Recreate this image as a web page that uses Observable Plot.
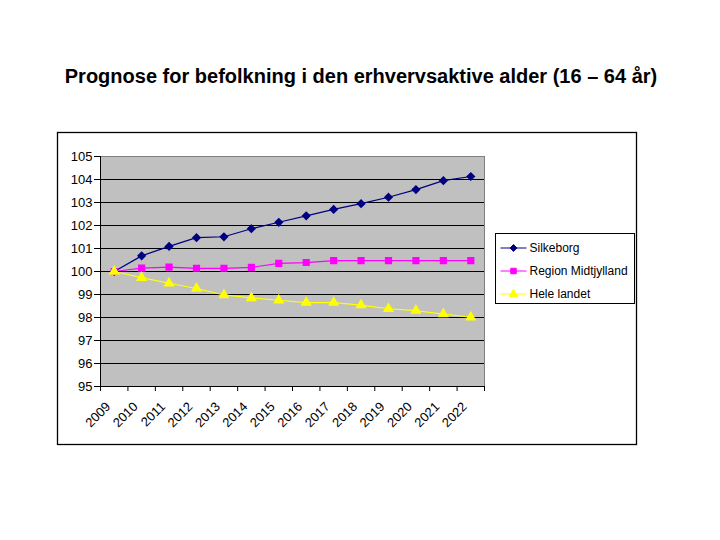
<!DOCTYPE html>
<html>
<head>
<meta charset="utf-8">
<script src="https://cdn.jsdelivr.net/npm/d3@7"></script>
<script src="https://cdn.jsdelivr.net/npm/@observablehq/plot@0.6"></script>
<style>
  html, body { margin: 0; padding: 0; background: #fff; }
  #wrap { position: relative; width: 720px; height: 540px; overflow: hidden; }
  #wrap svg { position: absolute; left: 0; top: 0; }
</style>
</head>
<body>
<div id="wrap"></div>
<script>
const title = "Prognose for befolkning i den erhvervsaktive alder (16 – 64 år)";
const years = [2009, 2010, 2011, 2012, 2013, 2014, 2015, 2016, 2017, 2018, 2019, 2020, 2021, 2022];
const silkeborg = [100, 100.68, 101.09, 101.47, 101.51, 101.86, 102.14, 102.42, 102.70, 102.95, 103.23, 103.56, 103.95, 104.13];
const regionMidtjylland = [100, 100.15, 100.19, 100.14, 100.14, 100.18, 100.35, 100.39, 100.47, 100.47, 100.47, 100.47, 100.47, 100.47];
const heleLandet = [100, 99.73, 99.49, 99.26, 98.98, 98.85, 98.75, 98.65, 98.65, 98.54, 98.38, 98.30, 98.15, 98.01];
const seriesNames = ["Silkeborg", "Region Midtjylland", "Hele landet"];
const seriesColors = ["#000080", "#ff00ff", "#ffff00"];
const seriesSymbols = ["diamond2", "square", "triangle"];
const yTicks = [95, 96, 97, 98, 99, 100, 101, 102, 103, 104, 105];

const seriesValues = [silkeborg, regionMidtjylland, heleLandet];
const data = seriesNames.flatMap((name, s) =>
  years.map((year, i) => ({ series: name, year, value: seriesValues[s][i] })));
const boundaries = years.map(y => y - 0.5).concat([years[years.length - 1] + 0.5]);
const font = "'Liberation Sans', Arial, sans-serif";

const wrap = document.getElementById("wrap");

// background svg: title, outer frame, legend
const bg = d3.select(wrap).append("svg").attr("width", 720).attr("height", 540)
  .style("font-family", font);
bg.append("text").attr("x", 361).attr("y", 83).attr("text-anchor", "middle")
  .attr("font-size", 20).attr("font-weight", "bold").text(title);
bg.append("rect").attr("x", 57.5).attr("y", 132.5).attr("width", 579).attr("height", 312)
  .attr("fill", "white").attr("stroke", "black").attr("stroke-width", 1.3);

const lg = bg.append("g").attr("transform", "translate(495.5,233.5)");
lg.append("rect").attr("width", 139).attr("height", 70).attr("fill", "white").attr("stroke", "black");
const symMap = { diamond2: d3.symbolDiamond2, square: d3.symbolSquare, triangle: d3.symbolTriangle };
seriesNames.forEach((name, i) => {
  const cy = 14.5 + i * 23;
  lg.append("line").attr("x1", 5).attr("x2", 31).attr("y1", cy).attr("y2", cy)
    .attr("stroke", seriesColors[i]).attr("stroke-width", 1);
  lg.append("path").attr("d", d3.symbol(symMap[seriesSymbols[i]], 30)())
    .attr("transform", `translate(18,${cy})`)
    .attr("fill", seriesColors[i]).attr("stroke", seriesColors[i]);
  lg.append("text").attr("x", 34).attr("y", cy + 4.3).attr("font-size", 12).text(name);
});

const chart = Plot.plot({
  width: 720,
  height: 540,
  marginLeft: 100,
  marginRight: 236,
  marginTop: 156,
  marginBottom: 154,
  style: { fontFamily: font, fontSize: "13px", color: "black", background: "transparent", overflow: "visible" },
  x: { type: "linear", domain: [boundaries[0], boundaries[boundaries.length - 1]] },
  y: { domain: [95, 105] },
  color: { domain: seriesNames, range: seriesColors },
  symbol: { domain: seriesNames, range: seriesSymbols },
  marks: [
    Plot.frame({ fill: "#c0c0c0", stroke: "#808080" }),
    Plot.gridY(yTicks.slice(1, -1), { stroke: "black", strokeOpacity: 1, strokeWidth: 1 }),
    Plot.ruleX([boundaries[0]], { stroke: "black" }),
    Plot.ruleY([95], { stroke: "black" }),
    Plot.axisY({ ticks: yTicks, tickSize: 6, tickPadding: 2, fontSize: 13, tickFormat: d => String(d), label: null }),
    Plot.axisX({ ticks: boundaries, tickSize: 5, tickFormat: () => "", label: null }),
    Plot.axisX({ ticks: years, tickSize: 0, tickPadding: 18, tickRotate: -45, dx: -6, fontSize: 13, tickFormat: d => String(d), label: null }),
    Plot.line(data, { x: "year", y: "value", z: "series", stroke: "series", strokeWidth: 1.2 }),
    Plot.dot(data, { x: "year", y: "value", symbol: "series", fill: "series", stroke: "series", r: 3.2 })
  ]
});
wrap.appendChild(chart);
</script>
</body>
</html>
